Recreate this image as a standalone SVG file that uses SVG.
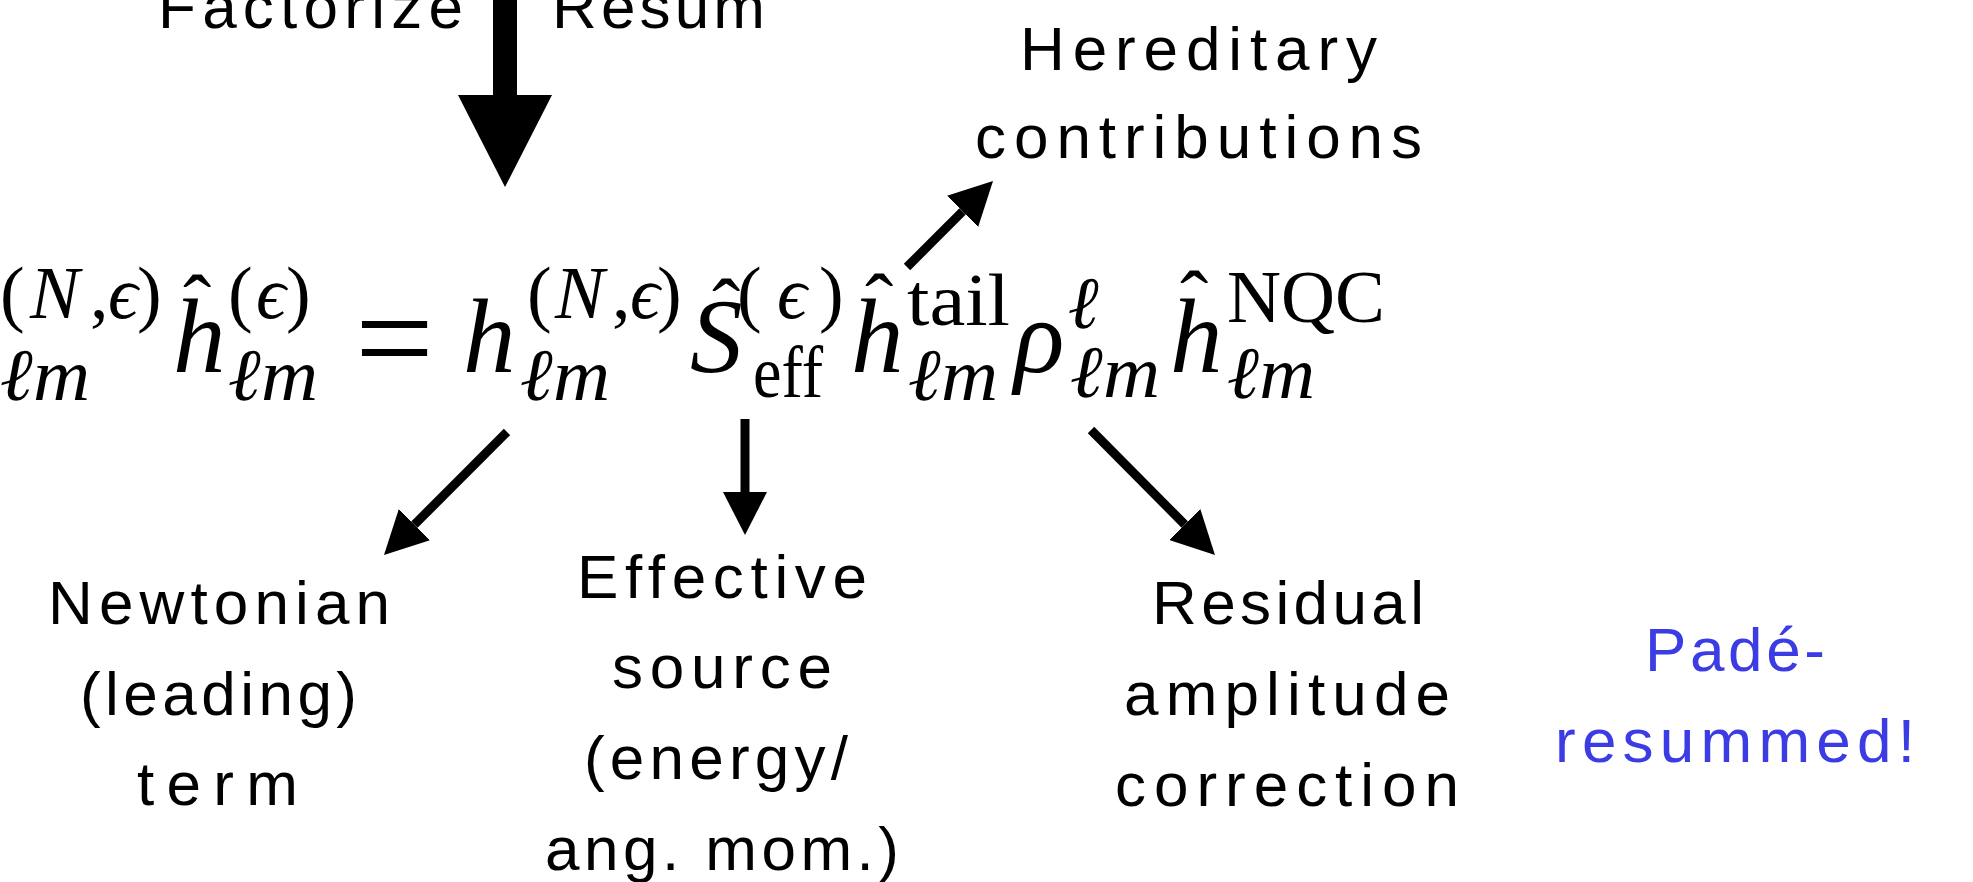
<svg xmlns="http://www.w3.org/2000/svg" width="1973" height="882" viewBox="0 0 1973 882">
<style>
.lbl{font-family:'Liberation Sans','DejaVu Sans',sans-serif;font-size:62px;fill:#000}
.blue{fill:#3c3ce4}
.m{font-family:'Liberation Serif','DejaVu Serif',serif;fill:#000}
.big{font-size:105px;font-style:italic}
.sc{font-size:74px}
.it{font-style:italic}
.hat{font-size:85px}
.conn{stroke:#000;stroke-width:9;fill:none}
</style>
<defs>
<marker id="ah" markerUnits="userSpaceOnUse" markerWidth="43" markerHeight="44" viewBox="0 0 43 44" refX="0" refY="22" orient="auto">
<path d="M0,0 L43,22 L0,44 Z" fill="#000"/>
</marker>
</defs>
<rect width="1973" height="882" fill="#fff"/>

<g id="connectors">
<path id="big-arrow" d="M493,0 L517,0 L517,95 L552,95 L505,187 L458,95 L493,95 Z" fill="#000"/>
<line class="conn" x1="507" y1="432" x2="414.4" y2="524.6" marker-end="url(#ah)"/>
<line class="conn" x1="745" y1="419" x2="745" y2="492" marker-end="url(#ah)"/>
<line class="conn" x1="907" y1="267" x2="962.6" y2="211.4" marker-end="url(#ah)"/>
<line class="conn" x1="1091" y1="430" x2="1184.7" y2="524.5" marker-end="url(#ah)"/>
</g>

<g id="factorize"><text class="lbl" x="158" y="28" textLength="305" lengthAdjust="spacing">Factorize</text></g>
<g id="resum"><text class="lbl" x="552" y="28" textLength="213" lengthAdjust="spacing">Resum</text></g>

<g id="hereditary">
<text class="lbl" x="1020" y="70" textLength="357" lengthAdjust="spacing">Hereditary</text>
<text class="lbl" x="975" y="158" textLength="447" lengthAdjust="spacing">contributions</text>
</g>

<g id="equation" class="m">
<text class="sc" y="318"><tspan x="0">(</tspan><tspan x="30" class="it">N</tspan><tspan x="90">,</tspan><tspan x="108" class="it">ϵ</tspan><tspan x="137">)</tspan></text>
<text class="sc it" x="0" y="400" textLength="90" lengthAdjust="spacingAndGlyphs">ℓm</text>
<text class="big" x="173" y="372">h</text>
<text class="hat" x="183" y="333">ˆ</text>
<text class="sc" y="318"><tspan x="228">(</tspan><tspan x="256" class="it">ϵ</tspan><tspan x="286">)</tspan></text>
<text class="sc it" x="228" y="400" textLength="90" lengthAdjust="spacingAndGlyphs">ℓm</text>
<text x="355" y="385" font-size="140">=</text>
<text class="big" x="463" y="372">h</text>
<text class="sc" y="318"><tspan x="527">(</tspan><tspan x="555" class="it">N</tspan><tspan x="612">,</tspan><tspan x="630" class="it">ϵ</tspan><tspan x="657">)</tspan></text>
<text class="sc it" x="520" y="400" textLength="90" lengthAdjust="spacingAndGlyphs">ℓm</text>
<text class="big" x="690" y="372">S</text>
<text class="hat" x="712" y="337">ˆ</text>
<text class="sc" y="318"><tspan x="737">(</tspan><tspan x="777" class="it">ϵ</tspan><tspan x="819">)</tspan></text>
<text class="sc" x="753" y="397" textLength="70" lengthAdjust="spacingAndGlyphs">eff</text>
<text class="big" x="851" y="372">h</text>
<text class="hat" x="865" y="332">ˆ</text>
<text class="sc" x="907" y="325" textLength="103" lengthAdjust="spacingAndGlyphs">tail</text>
<text class="sc it" x="908" y="400" textLength="90" lengthAdjust="spacingAndGlyphs">ℓm</text>
<text class="big" x="1014" y="372">ρ</text>
<text class="sc it" x="1068" y="328">ℓ</text>
<text class="sc it" x="1070" y="397" textLength="90" lengthAdjust="spacingAndGlyphs">ℓm</text>
<text class="big" x="1170" y="372">h</text>
<text class="hat" x="1180" y="329">ˆ</text>
<text class="sc" x="1227" y="322" textLength="158" lengthAdjust="spacingAndGlyphs">NQC</text>
<text class="sc it" x="1227" y="398" textLength="88" lengthAdjust="spacingAndGlyphs">ℓm</text>
</g>

<g id="newtonian">
<text class="lbl" x="48" y="624" textLength="342" lengthAdjust="spacing">Newtonian</text>
<text class="lbl" x="80" y="715" textLength="277" lengthAdjust="spacing">(leading)</text>
<text class="lbl" x="137" y="805" textLength="161" lengthAdjust="spacing">term</text>
</g>

<g id="effective-source">
<text class="lbl" x="577" y="598" textLength="290" lengthAdjust="spacing">Effective</text>
<text class="lbl" x="612" y="688" textLength="220" lengthAdjust="spacing">source</text>
<text class="lbl" x="584" y="779" textLength="264" lengthAdjust="spacing">(energy/</text>
<text class="lbl" x="545" y="870" textLength="354" lengthAdjust="spacing">ang. mom.)</text>
</g>

<g id="residual">
<text class="lbl" x="1152" y="624" textLength="272" lengthAdjust="spacing">Residual</text>
<text class="lbl" x="1124" y="715" textLength="326" lengthAdjust="spacing">amplitude</text>
<text class="lbl" x="1115" y="806" textLength="344" lengthAdjust="spacing">correction</text>
</g>

<g id="pade">
<text class="lbl blue" x="1645" y="671" textLength="180" lengthAdjust="spacing">Padé-</text>
<text class="lbl blue" x="1555" y="762" textLength="360" lengthAdjust="spacing">resummed!</text>
</g>
</svg>
